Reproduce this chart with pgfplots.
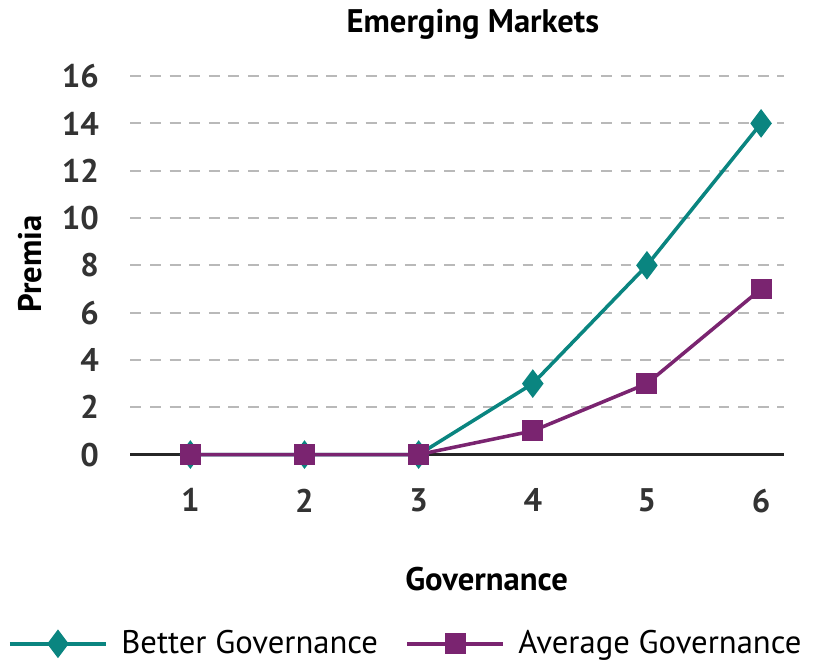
\documentclass[border=0pt]{standalone}
\usepackage{pgfplots}
\pgfplotsset{compat=1.18}
\usepackage{fontspec}
\setmainfont{PT Sans}
\definecolor{teal1}{HTML}{0A8580}
\definecolor{purp1}{HTML}{7A2470}
\begin{document}
\begin{tikzpicture}
\begin{axis}[
  scale only axis,
  width=240pt, height=139pt,
  xmin=0.475, xmax=6.2,
  ymin=0, ymax=16,
  clip=false,
  axis line style={draw=none},
  major tick length=0pt,
  xtick={1,2,3,4,5,6},
  ytick={2,4,...,16},
  extra y ticks={0},
  extra y tick style={grid style={solid,black!85,line width=0.9pt}},
  ymajorgrids,
  grid style={gray!55,line width=0.8pt,dash pattern=on 4pt off 3.2pt},
  /pgf/number format/assume math mode=true,
  ticklabel style={font=\bfseries\large, text=black!80},
  yticklabel style={xshift=-8pt},
  xticklabel style={yshift=-9pt},
  title={\bfseries Emerging Markets},
  title style={at={(axis description cs:0.524,1)},yshift=4pt,font=\bfseries\large},
  xlabel={\bfseries Governance},
  xlabel style={at={(axis description cs:0.545,-0.328)},anchor=center,font=\bfseries\large},
  ylabel={\bfseries Premia},
  ylabel style={at={(axis description cs:-0.153,0.504)},anchor=center,rotate=0,font=\bfseries\large},
  legend columns=2,
  legend style={draw=none,at={(axis description cs:0.424,-0.5)},anchor=center,font=\large,
    /tikz/every odd column/.append style={column sep=3pt},
    /tikz/every even column/.append style={column sep=8pt}},
  legend image code/.code={\draw[#1,mark repeat=2,mark phase=2] plot coordinates {(0cm,0cm)(0.62cm,0cm)(1.24cm,0cm)};},
]
\addplot[teal1,line width=1.3pt,mark=diamond*,mark size=4.2pt,mark options={fill=teal1,solid}]
  coordinates {(1,0)(2,0)(3,0)(4,3)(5,8)(6,14)};
\addlegendentry{Better Governance}
\addplot[purp1,line width=1.3pt,mark=square*,mark size=3.2pt,mark options={fill=purp1,solid}]
  coordinates {(1,0)(2,0)(3,0)(4,1)(5,3)(6,7)};
\addlegendentry{Average Governance}
\end{axis}
\end{tikzpicture}
\end{document}
